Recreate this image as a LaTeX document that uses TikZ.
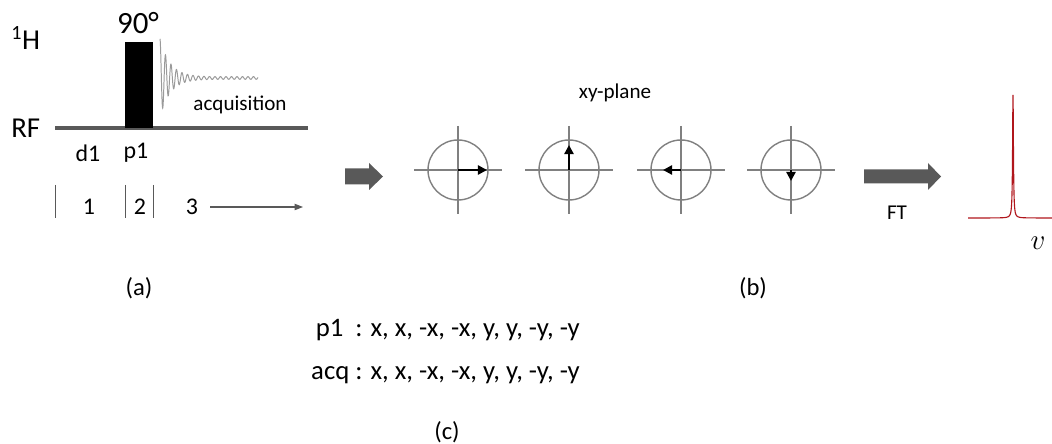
\documentclass[tikz,border=0pt]{standalone}
\usepackage{fontspec}
\setmainfont{Carlito}
\usepackage{tikz}
\usetikzlibrary{arrows.meta,calc}
\definecolor{lineg}{HTML}{595959}
\definecolor{circg}{HTML}{808080}
\definecolor{fidg}{HTML}{9A9A9A}
\definecolor{peakred}{HTML}{B0161C}
\tikzstyle{lbl} = [inner sep=0pt, font=\fontsize{15}{18}\selectfont]
\tikzstyle{seglbl} = [inner sep=0pt, font=\fontsize{17}{20}\selectfont]
\tikzstyle{chan} = [inner sep=0pt, anchor=west, font=\fontsize{20.5}{24}\selectfont]
\tikzstyle{sublbl} = [inner sep=0pt, font=\fontsize{17.5}{21}\selectfont]
\tikzstyle{phase} = [inner sep=0pt, anchor=east, font=\fontsize{19}{23}\selectfont]
\tikzstyle{spin} = [circle, draw=circg, line width=1pt, minimum size=1.5cm, inner sep=0pt]
\tikzstyle{axis} = [draw=circg, line width=1pt]
\tikzstyle{vec} = [line width=2pt, -{Triangle[length=6.5pt,width=6.5pt]}]
\tikzstyle{tick} = [draw=lineg, line width=0.6pt]
\tikzstyle{blockg} = [fill=lineg]

\begin{document}
\begin{tikzpicture}[x=0.025cm, y=-0.025cm, >=Stealth]
                \useasboundingbox (0,0) rectangle (1052,444);

                % (a) pulse sequence
                \node[chan] (nuc) at (11,38) {\textsuperscript{1}H};
                \node[chan] (rf) at (11,128) {RF};
                \coordinate (rf0) at (55,128);
                \coordinate (rf1) at (308,128);
                \draw[lineg, line width=2.8pt] (rf0) -- (rf1);
                \node[fill=black, minimum width=0.7cm, minimum height=2.15cm, inner sep=0pt, anchor=south] (pulse) at (139,128) {};
                \node[inner sep=0pt, font=\fontsize{22}{26}\selectfont] (ang) at (138,23) {90°};
                \draw[fidg, line width=0.7pt] plot[domain=0:98, samples=700] ({160+\x}, {78-(38*exp(-min(\x,60)/10)+1.2)*cos(65.45*\x)});
                \node[lbl] (acq) at (240,105) {acquisition};
                \node[seglbl] (d1) at (88,153) {d1};
                \node[seglbl] (p1) at (136,153) {p1};

                \foreach \tx in {55,125,153}
                    \draw[tick] (\tx,185) -- (\tx,218);
                \node[seglbl] (t1) at (89,207) {1};
                \node[seglbl] (t2) at (140,207) {2};
                \node[seglbl] (t3) at (192,207) {3};
                \coordinate (tEnd) at (303,207);
                \draw[lineg, line width=0.8pt, -{Triangle[length=6pt,width=4.5pt]}] ($(t3.east)+(12,0)$) -- (tEnd);
                \node[sublbl] (capa) at (139,288) {(a)};

                % (b) xy-plane
                \fill[blockg] (345,168.5) -- (369,168.5) -- (369,163) -- (383,176.5) -- (369,190) -- (369,184.5) -- (345,184.5) -- cycle;
                \node[lbl] (xy) at (615,93) {xy-plane};
                \foreach \i/\cx/\dx/\dy in {1/458/29/0, 2/569/0/-25, 3/681/-18/0, 4/791/0/11} {
                    \node[spin] (c\i) at (\cx,170) {};
                    \draw[axis] ($(c\i.center)+(-44,0)$) -- ($(c\i.center)+(44,0)$);
                    \draw[axis] ($(c\i.center)+(0,-44)$) -- ($(c\i.center)+(0,44)$);
                    \draw[vec] (c\i.center) -- ++(\dx,\dy);
                }
                \fill[blockg] (864,169.5) -- (928,169.5) -- (928,163) -- (941,176.5) -- (928,190) -- (928,183.5) -- (864,183.5) -- cycle;
                \node[lbl] (ft) at (897,213) {FT};
                \draw[peakred, line width=0.8pt] plot[domain=968:1052, samples=841] (\x, {218-123/(1+((\x-1013)/0.5)^2)});
                \node[inner sep=0pt, font=\fontsize{22}{26}\selectfont] (nu) at (1038,243) {$v$};
                \node[sublbl] (capb) at (753,288) {(b)};

                % (c) phase cycle
                \node[phase] (ph1) at (580,330) {p1\ \ : x, x, -x, -x, y, y, -y, -y};
                \node[phase] (ph2) at (580,375) {acq : x, x, -x, -x, y, y, -y, -y};
                \node[sublbl] (capc) at (447,432) {(c)};
            \end{tikzpicture}
\end{document}
